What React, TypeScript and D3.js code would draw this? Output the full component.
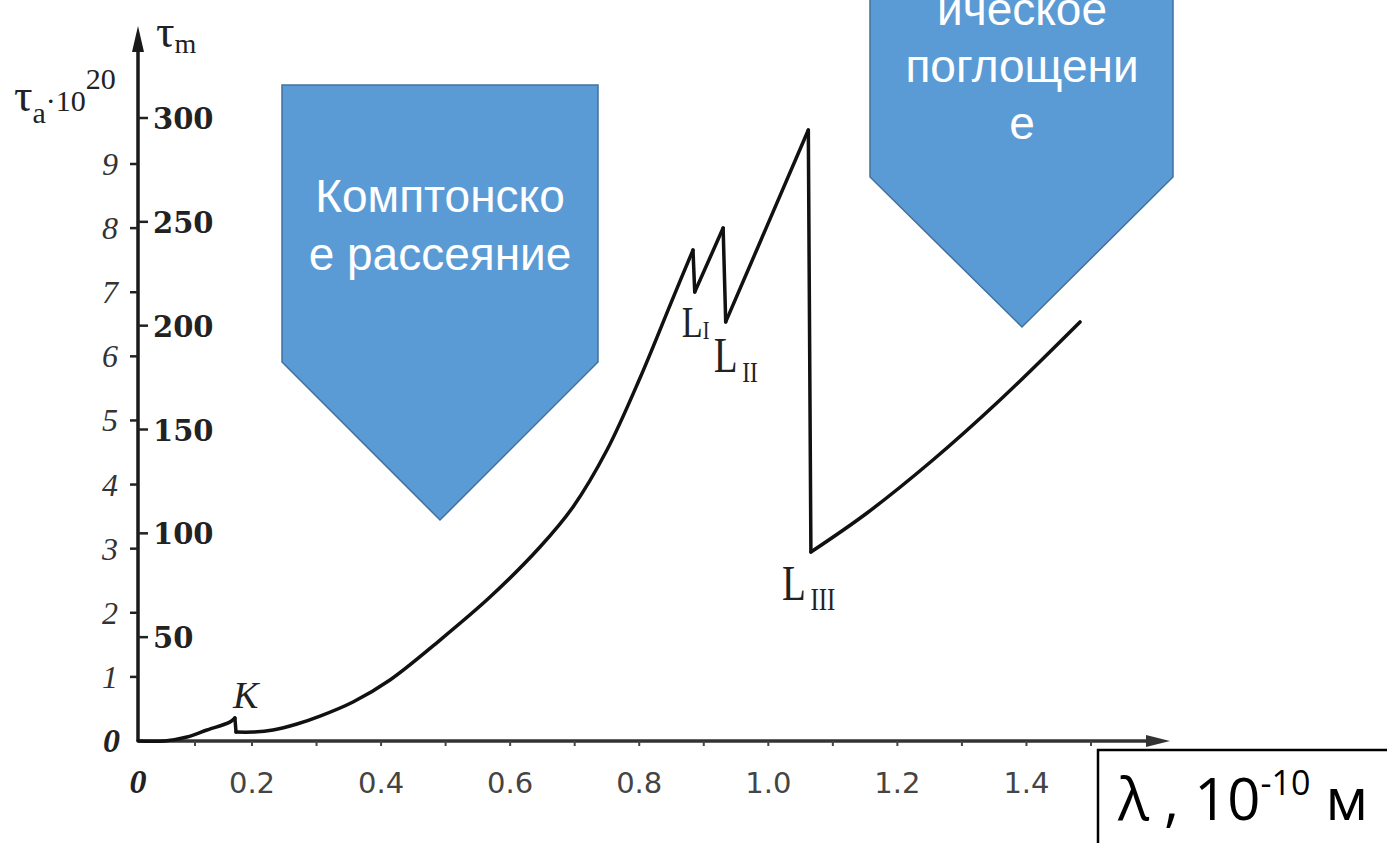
import React from 'react';
import * as d3 from 'd3';

const W = 1387;
const H = 843;

// кривая τm(λ)
const lambda = [
  0, 0.047, 0.086, 0.121, 0.161, 0.17,
  0.172, 0.2015, 0.2325, 0.2697, 0.3054, 0.3565, 0.4138, 0.4913, 0.5688, 0.6462, 0.6974, 0.75, 0.8012, 0.8523, 0.8833,
  0.886, 0.93,
  0.934, 1.062,
  1.066, 1.153, 1.255, 1.359, 1.483,
];
const tauM = [
  0, 0, 1.9, 5.3, 9.1, 11.1,
  4.3, 4.3, 5.3, 8.2, 12.0, 18.8, 29.4, 48.6, 69.3, 93.4, 112.7, 140.1, 174.8, 213.3, 236.4,
  216.2, 247.0,
  201.8, 294.2,
  91.0, 109.8, 135.3, 164.2, 201.8,
];

// края поглощения: индекс точки после скачка
const edgeIndex = [6, 21, 23, 25];
const edgeNames = ['K', 'L', 'L', 'L'];
const edgeSubs = ['', 'I', 'II', 'III'];

const xTicksMinor = [0.1, 0.2, 0.3, 0.4, 0.5, 0.6, 0.7, 0.8, 0.9, 1.0, 1.1, 1.2, 1.3, 1.4, 1.5];
const xTickLabels = ['0.2', '0.4', '0.6', '0.8', '1.0', '1.2', '1.4'];
const tauATicks = [1, 2, 3, 4, 5, 6, 7, 8, 9];
const tauMTicks = [50, 100, 150, 200, 250, 300];

const comptonLines = ['Комптонско', 'е рассеяние'];
const photoLines = ['ическое', 'поглощени', 'е'];

export default function App() {
  // шкала по λ: начало скана сжато, дальше линейно
  const x = d3.scaleLinear().domain([0, 0.2, 1.5]).range([138, 252, 1091]);
  const yM = d3.scaleLinear().domain([0, 300]).range([741, 118]);
  const yA = d3.scaleLinear().domain([0, 9]).range([741, 164]);

  const points = lambda.map((l, i) => ({ l, t: tauM[i] }));
  const starts = [0, ...edgeIndex];
  const pieces = starts.map((s, k) => points.slice(s, k < edgeIndex.length ? edgeIndex[k] : points.length));

  const line = d3
    .line<{ l: number; t: number }>()
    .x((d) => x(d.l))
    .y((d) => yM(d.t))
    .curve(d3.curveCatmullRom.alpha(0.5));

  const x0 = x(0);
  const y0 = yM(0);

  const edgeOffsets = [
    { dx: -2, dy: -10, size: 38, sub: 0 },
    { dx: -13, dy: 45, size: 44, sub: 26 },
    { dx: -12, dy: 50, size: 50, sub: 30 },
    { dx: -29, dy: 48, size: 50, sub: 32 },
  ];

  return (
    <svg
      width={W}
      height={H}
      style={{ position: 'fixed', left: 0, top: 0, background: '#fff' }}
    >
      <rect x={0} y={0} width={W} height={H} fill="#fff" />

      {/* оси */}
      <line x1={x0} y1={y0} x2={x0} y2={44} stroke="#1a1a1a" strokeWidth={3.5} />
      <polygon points={`${x0},26 ${x0 - 6},52 ${x0 + 6},52`} fill="#1a1a1a" />
      <line x1={x0} y1={y0} x2={1150} y2={y0} stroke="#333" strokeWidth={3.5} />
      <polygon points={`1170,${y0} 1146,${y0 - 6} 1146,${y0 + 6}`} fill="#333" />

      {xTicksMinor.map((v) => (
        <line key={v} x1={x(v)} x2={x(v)} y1={y0} y2={y0 + 5} stroke="#444" strokeWidth={2} />
      ))}
      {xTickLabels.map((s) => (
        <text
          key={s}
          x={x(+s)}
          y={793}
          textAnchor="middle"
          fontFamily="DejaVu Sans"
          fontSize={29}
          fill="#444"
        >
          {s}
        </text>
      ))}
      <text x={x0} y={793} textAnchor="middle" fontFamily="Liberation Serif" fontStyle="italic" fontWeight="bold" fontSize={34} fill="#222">
        0
      </text>

      {/* левая шкала τa·10^20 */}
      {tauATicks.map((v) => (
        <g key={v}>
          <line x1={x0 - 8} x2={x0} y1={yA(v)} y2={yA(v)} stroke="#222" strokeWidth={2.5} />
          <text
            x={118}
            y={yA(v) + 11}
            textAnchor="end"
            fontFamily="Liberation Serif"
            fontStyle="italic"
            fontSize={32}
            fill="#333"
          >
            {v}
          </text>
        </g>
      ))}
      <text x={120} y={yA(0) + 11} textAnchor="end" fontFamily="Liberation Serif" fontStyle="italic" fontWeight="bold" fontSize={34} fill="#222">
        0
      </text>

      {/* правая шкала τm */}
      {tauMTicks.map((v) => (
        <g key={v}>
          <line x1={x0} x2={x0 + 10} y1={yM(v)} y2={yM(v)} stroke="#222" strokeWidth={2.5} />
          <text
            x={153}
            y={yM(v) + 11}
            fontFamily="DejaVu Serif"
            fontWeight="bold"
            fontSize={29}
            fill="#222"
          >
            {v}
          </text>
        </g>
      ))}

      {/* подписи осей */}
      <text x={156} y={47} fontFamily="Liberation Serif" fontSize={46} fill="#222">
        τ<tspan fontSize={28} dy={6}>m</tspan>
      </text>
      <text x={14} y={111} fontFamily="Liberation Serif" fontSize={46} fill="#222">
        τ<tspan fontSize={30} dy={12}>a</tspan>
        <tspan fontSize={30} dy={-12}>·10</tspan>
        <tspan fontSize={30} dy={-22}>20</tspan>
      </text>

      {/* кривая */}
      {pieces.map((p, k) => (
        <path key={k} d={line(p) ?? ''} fill="none" stroke="#111" strokeWidth={3.5} strokeLinejoin="round" strokeLinecap="round" />
      ))}
      {edgeIndex.map((i) => (
        <line
          key={i}
          x1={x(lambda[i - 1])}
          y1={yM(tauM[i - 1])}
          x2={x(lambda[i])}
          y2={yM(tauM[i])}
          stroke="#111"
          strokeWidth={3.5}
          strokeLinecap="round"
        />
      ))}

      {/* обозначения краёв */}
      {edgeIndex.map((i, k) => {
        const o = edgeOffsets[k];
        if (k === 0) {
          return (
            <text key={k} x={x(lambda[i - 1]) + o.dx} y={yM(tauM[i - 1]) + o.dy} fontFamily="Liberation Serif" fontStyle="italic" fontSize={o.size} fill="#222">
              {edgeNames[k]}
            </text>
          );
        }
        const px = x(lambda[i]) + o.dx;
        const py = yM(tauM[i]) + o.dy;
        return (
          <g key={k} transform={`translate(${px},${py}) scale(0.78,1)`}>
            <text x={0} y={0} fontFamily="Liberation Serif" fontSize={o.size} fill="#222">
              {edgeNames[k]}
              <tspan fontSize={o.sub} dy={k === 1 ? 2 : 10} dx={k === 1 ? 0 : 6}>
                {edgeSubs[k]}
              </tspan>
            </text>
          </g>
        );
      })}

      {/* выноски */}
      <polygon
        points="282,85 598,85 598,362 440,520 282,362"
        fill="#5B9BD5"
        stroke="#41719C"
        strokeWidth={1.5}
      />
      {comptonLines.map((s, i) => (
        <text key={s} x={440} y={212 + i * 58} textAnchor="middle" fontFamily="Liberation Sans" fontSize={46} fill="#fff">
          {s}
        </text>
      ))}
      <polygon
        points="870,-10 1173,-10 1173,177 1022,327 870,177"
        fill="#5B9BD5"
        stroke="#41719C"
        strokeWidth={1.5}
      />
      {photoLines.map((s, i) => (
        <text key={s} x={1022} y={25 + i * 57} textAnchor="middle" fontFamily="Liberation Sans" fontSize={46} fill="#fff">
          {s}
        </text>
      ))}

      {/* подпись оси λ */}
      <rect x={1098} y={750} width={320} height={120} fill="#fff" stroke="#000" strokeWidth={2.5} />
      <text x={1118} y={820} fontFamily="Open Sans" fontSize={58} fill="#000">
        λ , 10<tspan fontSize={34} dy={-25}>-10</tspan>
        <tspan dy={25}> м</tspan>
      </text>
    </svg>
  );
}
